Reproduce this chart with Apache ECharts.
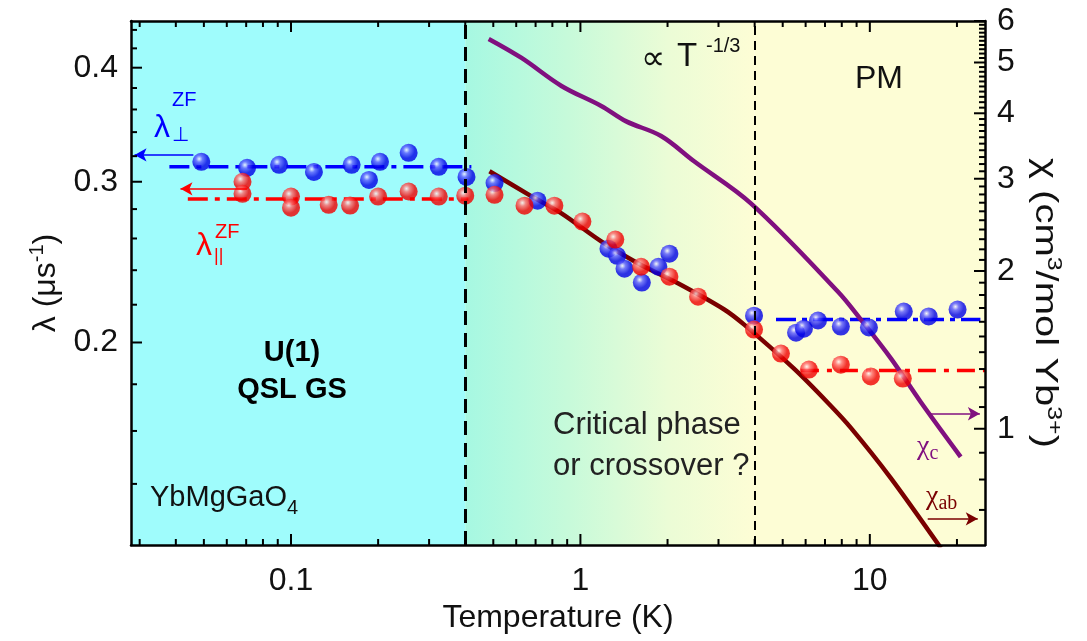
<!DOCTYPE html>
<html>
<head>
<meta charset="utf-8">
<title>YbMgGaO4: relaxation rate and susceptibility vs temperature</title>
<script src="https://cdn.jsdelivr.net/npm/echarts@6/dist/echarts.min.js"></script>
<style>
  html, body { margin: 0; padding: 0; background: #ffffff; }
  #chart { width: 1087px; height: 641px; }
</style>
</head>
<body>
<div id="chart"></div>
<script>
// Zero-field relaxation rate λ⊥ (μs^-1) vs temperature (K)
const perpT    = [0.049, 0.0705, 0.091, 0.12, 0.162, 0.186, 0.203, 0.255, 0.324, 0.404,
                  0.505, 0.711, 1.25, 1.34, 1.42, 1.63, 1.86, 2.03,
                  3.98, 5.56, 5.92, 6.62, 7.94, 9.93, 13.1, 15.97, 20.1];
const perpRate = [0.3155, 0.3107, 0.3131, 0.3075, 0.3131, 0.3014, 0.3155, 0.3227, 0.3115, 0.3037,
                  0.2990, 0.2860, 0.2534, 0.2489, 0.2409, 0.2326, 0.2421, 0.2502,
                  0.2140, 0.2050, 0.2071, 0.2114, 0.2082, 0.2077, 0.2162, 0.2136, 0.2173];

// Zero-field relaxation rate λ∥ (μs^-1) vs temperature (K)
const parT     = [0.068, 0.068, 0.100, 0.100, 0.135, 0.160, 0.200, 0.255, 0.324, 0.400,
                  0.505, 0.641, 0.813, 1.016, 1.32, 1.62, 2.03, 2.55,
                  3.98, 4.93, 6.16, 7.94, 10.08, 13.0];
const parRate  = [0.3000, 0.2910, 0.2890, 0.2810, 0.2830, 0.2825, 0.2890, 0.2927, 0.2890, 0.2896,
                  0.2903, 0.2824, 0.2824, 0.2713, 0.2593, 0.2421, 0.2361, 0.2245,
                  0.2066, 0.1945, 0.1868, 0.1891, 0.1836, 0.1826];

// Constant-rate guides: [T start, T end] and level
const perpLowSpan  = [0.038, 0.42];  const perpLowLevel  = 0.3115;
const parLowSpan   = [0.044, 0.41];  const parLowLevel   = 0.2873;
const perpHighSpan = [4.74, 24.1];   const perpHighLevel = 0.2120;
const parHighSpan  = [5.78, 25.0];   const parHighLevel  = 0.1864;

// Magnetic susceptibility χ (cm^3/mol Yb^3+)
const chiAbT = [0.485, 0.678, 0.86, 1.18, 1.585, 2.18, 3.14, 3.68, 5.47, 7.16, 8.6, 11.8, 17.6];
const chiAb  = [3.10, 2.777, 2.577, 2.278, 2.068, 1.893, 1.689, 1.58, 1.302, 1.121, 1.004, 0.806, 0.592];
const chiCT  = [0.482, 0.626, 0.86, 1.18, 1.44, 1.90, 2.47, 3.89, 7.75, 9.31, 11.84, 14.97, 20.6];
const chiC   = [5.545, 5.10, 4.51, 4.13, 3.86, 3.62, 3.24, 2.69, 1.828, 1.616, 1.361, 1.126, 0.884];

// Phase boundaries (K)
const boundaries = [0.4, 4];

// Axis ticks
const tempMajor = [0.1, 1, 10];
const tempMinor = [0.03, 0.04, 0.05, 0.06, 0.07, 0.08, 0.09,
                   0.2, 0.3, 0.4, 0.5, 0.6, 0.7, 0.8, 0.9,
                   2, 3, 4, 5, 6, 7, 8, 9, 20];
const rateMajor = [0.2, 0.3, 0.4];
const rateMinor = [0.14, 0.16, 0.18, 0.22, 0.24, 0.26, 0.28, 0.32, 0.34, 0.36, 0.38, 0.42, 0.44];
const chiMajor  = [1, 2, 3, 4, 5, 6];
const chiMinor  = [0.7, 0.8, 0.9,
                   1.1, 1.2, 1.3, 1.4, 1.5, 1.6, 1.7, 1.8, 1.9,
                   2.1, 2.2, 2.3, 2.4, 2.5, 2.6, 2.7, 2.8, 2.9,
                   3.1, 3.2, 3.3, 3.4, 3.5, 3.6, 3.7, 3.8, 3.9,
                   4.1, 4.2, 4.3, 4.4, 4.5, 4.6, 4.7, 4.8, 4.9,
                   5.1, 5.2, 5.3, 5.4, 5.5, 5.6, 5.7, 5.8, 5.9];

const T_RANGE    = [0.028, 25];
const RATE_RANGE = [0.12, 0.45];
const CHI_RANGE  = [0.6, 6];

const FONT = 'Liberation Sans, Arial, Helvetica, sans-serif';
const SERIF = 'Liberation Serif, Times New Roman, serif';
const BLUE = '#0000ff', RED = '#ff0000', PURPLE = '#80107f', MAROON = '#7a0000';
const MAJOR_LEN = 11, MINOR_LEN = 6;

const zip = (xs, ys) => xs.map((x, i) => [x, ys[i]]);
const fmt = v => String(Math.round(v * 100) / 100);

function ball(light, mid, dark) {
  return {
    type: 'radial', x: 0.38, y: 0.34, r: 0.66,
    colorStops: [
      { offset: 0, color: light },
      { offset: 0.28, color: mid },
      { offset: 0.7, color: dark },
      { offset: 1, color: dark }
    ]
  };
}

const frameLine = { show: true, onZero: false, lineStyle: { color: '#000', width: 2.5 } };
const labelStyle = { fontSize: 32, fontFamily: FONT, color: '#111' };

const xAxes = [
  {
    type: 'log', logBase: 10, position: 'bottom', min: T_RANGE[0], max: T_RANGE[1], z: 10,
    axisLine: frameLine, axisTick: { show: false }, splitLine: { show: false },
    axisLabel: Object.assign({ customValues: tempMajor, formatter: fmt, margin: 20 }, labelStyle),
    name: 'Temperature (K)', nameLocation: 'middle', nameGap: 52, nameTextStyle: labelStyle
  },
  {
    type: 'log', logBase: 10, position: 'top', min: T_RANGE[0], max: T_RANGE[1], z: 10,
    axisLine: frameLine, axisTick: { show: false }, axisLabel: { show: false }, splitLine: { show: false }
  }
];

const richName = {
  n: { fontSize: 32, fontFamily: FONT, color: '#111', lineHeight: 38 },
  s: { fontSize: 20, fontFamily: FONT, color: '#111', lineHeight: 20, verticalAlign: 'top' }
};

const yAxes = [
  {
    type: 'log', logBase: 10, position: 'left', min: RATE_RANGE[0], max: RATE_RANGE[1], z: 10,
    axisLine: frameLine, axisTick: { show: false }, splitLine: { show: false },
    axisLabel: Object.assign({ customValues: rateMajor, formatter: fmt, margin: 13 }, labelStyle),
    name: '{n|λ (μs}{s|-1}{n|)}', nameLocation: 'middle', nameGap: 60, nameRotate: 90,
    nameTextStyle: { rich: richName }
  },
  {
    type: 'log', logBase: 10, position: 'right', min: CHI_RANGE[0], max: CHI_RANGE[1], z: 10,
    axisLine: frameLine, axisTick: { show: false }, splitLine: { show: false },
    axisLabel: Object.assign({ customValues: chiMajor, formatter: fmt, margin: 12 }, labelStyle)
  }
];

// Inward tick marks placed through the axis scales: 'x' draws on bottom and top edges,
// 'left' / 'right' on the matching vertical edge.
function tickRenderer(side) {
  return function (params, api) {
    const cs = params.coordSys;
    const len = api.value(2);
    const p = api.coord([api.value(0), api.value(1)]);
    const style = { stroke: '#000', lineWidth: 2 };
    if (side === 'x') {
      return {
        type: 'group', children: [
          { type: 'line', shape: { x1: p[0], y1: cs.y + cs.height, x2: p[0], y2: cs.y + cs.height - len }, style: style },
          { type: 'line', shape: { x1: p[0], y1: cs.y, x2: p[0], y2: cs.y + len }, style: style }
        ]
      };
    }
    const x0 = side === 'left' ? cs.x : cs.x + cs.width;
    const dir = side === 'left' ? 1 : -1;
    return { type: 'line', shape: { x1: x0, y1: p[1], x2: x0 + dir * len, y2: p[1] }, style: style };
  };
}

const tempTicks = tempMajor.map(v => [v, 0.2, MAJOR_LEN]).concat(tempMinor.map(v => [v, 0.2, MINOR_LEN]));
const rateTicks = rateMajor.map(v => [1, v, MAJOR_LEN]).concat(rateMinor.map(v => [1, v, MINOR_LEN]));
const chiTicks  = chiMajor.map(v => [1, v, MAJOR_LEN]).concat(chiMinor.map(v => [1, v, MINOR_LEN]));

function guide(span, level, color, dash) {
  return {
    type: 'line', xAxisIndex: 0, yAxisIndex: 0, z: 3,
    data: [[span[0], level], [span[1], level]],
    symbol: 'none', silent: true,
    lineStyle: { color: color, width: 3.5, type: dash }
  };
}

function arrowMarker(from, to, color) {
  return {
    silent: true, symbol: ['none', 'arrow'], symbolSize: [10, 12],
    label: { show: false },
    data: [[{ coord: from, lineStyle: { color: color, width: 1.6, type: 'solid' } }, { coord: to }]]
  };
}

const option = {
  animation: false,
  backgroundColor: '#ffffff',
  grid: { left: 131, right: 102, top: 21, bottom: 96, containLabel: false, outerBoundsMode: 'none' },
  xAxis: xAxes,
  yAxis: yAxes,
  series: [
    // Phase regions
    {
      type: 'line', xAxisIndex: 0, yAxisIndex: 0, data: [], z: 0, silent: true,
      markArea: {
        silent: true,
        data: [
          [{ xAxis: T_RANGE[0], itemStyle: { color: '#9ffcfc' } }, { xAxis: boundaries[0] }],
          [{ xAxis: boundaries[0], itemStyle: { color: {
              type: 'linear', x: 0, y: 0, x2: 1, y2: 0,
              colorStops: [
                { offset: 0, color: '#a6f8e2' },
                { offset: 0.35, color: '#c6fada' },
                { offset: 0.7, color: '#ebfcd6' },
                { offset: 1, color: '#fdfdd5' }
              ] } } }, { xAxis: boundaries[1] }],
          [{ xAxis: boundaries[1], itemStyle: { color: '#fdfdd5' } }, { xAxis: T_RANGE[1] }]
        ]
      }
    },
    guide(perpLowSpan, perpLowLevel, BLUE, [20, 7, 5, 7]),
    guide(parLowSpan, parLowLevel, RED, [20, 7, 5, 7]),
    guide(perpHighSpan, perpHighLevel, BLUE, [20, 6, 5, 6]),
    guide(parHighSpan, parHighLevel, RED, [18, 8, 5, 8]),
    {
      name: 'χab', type: 'line', xAxisIndex: 0, yAxisIndex: 1, z: 3,
      data: zip(chiAbT, chiAb), smooth: 0.3, symbol: 'none', silent: true,
      lineStyle: { color: MAROON, width: 4.5 },
      markLine: arrowMarker([15.85, 0.673], [23.6, 0.673], MAROON)
    },
    {
      name: 'χc', type: 'line', xAxisIndex: 0, yAxisIndex: 1, z: 3,
      data: zip(chiCT, chiC), smooth: 0.35, symbol: 'none', silent: true,
      lineStyle: { color: PURPLE, width: 4.5 },
      markLine: arrowMarker([16.2, 1.068], [24.0, 1.068], PURPLE)
    },
    {
      name: 'λ⊥', type: 'scatter', xAxisIndex: 0, yAxisIndex: 0, z: 4,
      data: zip(perpT, perpRate), symbol: 'circle', symbolSize: 18, silent: true,
      itemStyle: { color: ball('#f4f4ff', '#5a5aff', '#0000e6') },
      markLine: arrowMarker([0.046, 0.321], [0.0288, 0.321], BLUE)
    },
    {
      name: 'λ∥', type: 'scatter', xAxisIndex: 0, yAxisIndex: 0, z: 4,
      data: zip(parT, parRate), symbol: 'circle', symbolSize: 18, silent: true,
      itemStyle: { color: ball('#fff0f0', '#ff6a6a', '#f00000') },
      markLine: arrowMarker([0.0705, 0.2947], [0.0415, 0.2947], RED)
    },
    // Phase boundary lines
    {
      type: 'line', xAxisIndex: 0, yAxisIndex: 0, data: [], z: 5, silent: true,
      markLine: {
        silent: true, symbol: 'none', label: { show: false },
        data: [
          { xAxis: boundaries[0], lineStyle: { color: '#000', width: 3, type: [14, 8] } },
          { xAxis: boundaries[1], lineStyle: { color: '#000', width: 2, type: [9, 6] } }
        ]
      }
    },
    // Tick marks
    { type: 'custom', xAxisIndex: 0, yAxisIndex: 0, z: 12, silent: true, clip: false,
      renderItem: tickRenderer('x'), data: tempTicks },
    { type: 'custom', xAxisIndex: 0, yAxisIndex: 0, z: 12, silent: true, clip: false,
      renderItem: tickRenderer('left'), data: rateTicks },
    { type: 'custom', xAxisIndex: 0, yAxisIndex: 1, z: 12, silent: true, clip: false,
      renderItem: tickRenderer('right'), data: chiTicks }
  ],
  graphic: [
    // Right axis title, drawn top-to-bottom
    { type: 'text', z: 20, x: 1045, y: 303, rotation: -Math.PI / 2, scaleX: 1.25, style: {
        text: '{n|χ (cm}{s|3}{n|/mol Yb}{s|3+}{n|)}', textAlign: 'center', textVerticalAlign: 'middle',
        rich: {
          n: { fontSize: 32, fontFamily: FONT, fill: '#111', lineHeight: 38 },
          s: { fontSize: 20, fontFamily: FONT, fill: '#111', lineHeight: 20, verticalAlign: 'top' }
        } } },
    // λ⊥ ZF label
    { type: 'text', z: 20, style: { text: 'λ', x: 154, y: 128, fill: BLUE, font: '32px ' + FONT, textVerticalAlign: 'middle' } },
    { type: 'text', z: 20, style: { text: 'ZF', x: 172, y: 100, fill: BLUE, font: '20px ' + FONT, textVerticalAlign: 'middle' } },
    { type: 'text', z: 20, style: { text: '⊥', x: 172, y: 135, fill: BLUE, font: '20px ' + FONT, textVerticalAlign: 'middle' } },
    // λ∥ ZF label
    { type: 'text', z: 20, style: { text: 'λ', x: 196, y: 246, fill: RED, font: '32px ' + FONT, textVerticalAlign: 'middle' } },
    { type: 'text', z: 20, style: { text: 'ZF', x: 215, y: 232, fill: RED, font: '20px ' + FONT, textVerticalAlign: 'middle' } },
    { type: 'text', z: 20, style: { text: '||', x: 214, y: 256, fill: RED, font: '18px ' + FONT, textVerticalAlign: 'middle' } },
    // Ground-state label
    { type: 'text', z: 20, style: { text: 'U(1)', x: 292, y: 353, fill: '#000', font: 'bold 29px ' + FONT, textAlign: 'center', textVerticalAlign: 'middle' } },
    { type: 'text', z: 20, style: { text: 'QSL GS', x: 292, y: 390, fill: '#000', font: 'bold 29px ' + FONT, textAlign: 'center', textVerticalAlign: 'middle' } },
    // Compound
    { type: 'text', z: 20, style: {
        text: '{n|YbMgGaO}{s|4}', x: 150, y: 498, textVerticalAlign: 'middle',
        rich: {
          n: { fontSize: 29, fontFamily: FONT, fill: '#111', lineHeight: 40 },
          s: { fontSize: 20, fontFamily: FONT, fill: '#111', lineHeight: 20, verticalAlign: 'bottom' }
        } } },
    // Intermediate regime
    { type: 'text', z: 20, style: { text: 'Critical phase', x: 553, y: 425, fill: '#222', font: '31px ' + FONT, textVerticalAlign: 'middle' } },
    { type: 'text', z: 20, style: { text: 'or crossover ?', x: 553, y: 466, fill: '#222', font: '31px ' + FONT, textVerticalAlign: 'middle' } },
    // Power law
    { type: 'text', z: 20, style: { text: '∝', x: 641, y: 60, fill: '#111', font: '34px ' + FONT, textVerticalAlign: 'middle' } },
    { type: 'text', z: 20, style: { text: 'T', x: 677, y: 57, fill: '#111', font: '33px ' + FONT, textVerticalAlign: 'middle' } },
    { type: 'text', z: 20, style: { text: '-1/3', x: 706, y: 46, fill: '#111', font: '20px ' + FONT, textVerticalAlign: 'middle' } },
    // Paramagnet
    { type: 'text', z: 20, style: { text: 'PM', x: 879, y: 79, fill: '#111', font: '32px ' + FONT, textAlign: 'center', textVerticalAlign: 'middle' } },
    // Susceptibility labels
    { type: 'text', z: 20, style: {
        text: '{n|χ}{s|c}', x: 917, y: 447, textVerticalAlign: 'middle',
        rich: {
          n: { fontSize: 28, fontFamily: SERIF, fill: PURPLE, lineHeight: 34 },
          s: { fontSize: 20, fontFamily: SERIF, fill: PURPLE, lineHeight: 22, verticalAlign: 'bottom' }
        } } },
    { type: 'text', z: 20, style: {
        text: '{n|χ}{s|ab}', x: 926, y: 497, textVerticalAlign: 'middle',
        rich: {
          n: { fontSize: 28, fontFamily: SERIF, fill: MAROON, lineHeight: 34 },
          s: { fontSize: 20, fontFamily: SERIF, fill: MAROON, lineHeight: 22, verticalAlign: 'bottom' }
        } } }
  ]
};

const chart = echarts.init(document.getElementById('chart'), null, { renderer: 'canvas' });
chart.setOption(option);
</script>
</body>
</html>
